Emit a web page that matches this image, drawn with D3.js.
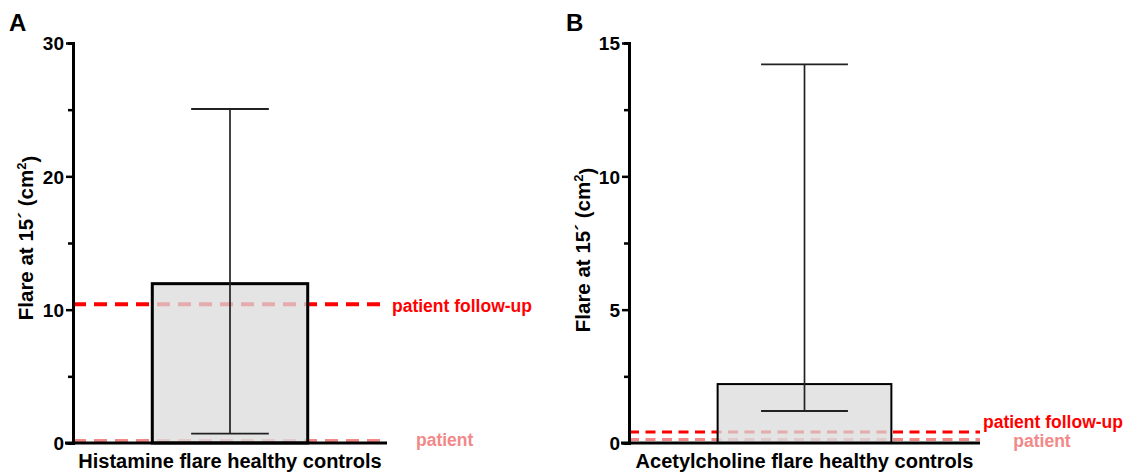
<!DOCTYPE html>
<html>
<head>
<meta charset="utf-8">
<title>Flare at 15'</title>
<script src="https://d3js.org/d3.v7.min.js"></script>
<style>
  body { margin: 0; background: #fff; }
  svg { font-family: "Liberation Sans", Arial, sans-serif; font-weight: bold; }
</style>
</head>
<body>
<svg id="chart" width="1130" height="474"></svg>
<script>
// data
const panels = ['A', 'B'];
const categories = ['Histamine flare healthy controls', 'Acetylcholine flare healthy controls'];
const barMeans = [11.95, 2.21];
const errLow = [0.7, 1.2];
const errHigh = [25.05, 14.2];
const followUp = [10.4, 0.41];
const patient = [0.15, 0.13];
const yMax = [30, 15];
const yTicks = [[0, 10, 20, 30], [0, 5, 10, 15]];
const yMinorStep = [5, 2.5];

const svg = d3.select('#chart');

// layout per panel
const layout = [
  { x0: 73, x1: 387, lw: 4, dash: '13,8', box: 3, lx: 33, ly: 238, letterX: 9,
    fuX: 392, fuY: 312, ptX: 416, ptY: 446, ptAnchor: 'start' },
  { x0: 629, x1: 980, lw: 3, dash: '10,6.5', box: 2, lx: 590, ly: 250, letterX: 566,
    fuX: 983, fuY: 428, ptX: 1042, ptY: 447, ptAnchor: 'middle' }
];
const plotTop = 43, plotBottom = 443;
const red = '#ff0000', pink = '#f28888';

panels.forEach((p, i) => {
  const L = layout[i];
  const g = svg.append('g');

  const y = d3.scaleLinear().domain([0, yMax[i]]).range([plotBottom, plotTop]);
  const x = d3.scaleBand().domain([categories[i]]).range([L.x0, L.x1])
    .paddingInner(0.505).paddingOuter(0.2525);

  // patient reference lines (under the bar)
  g.append('line')
    .attr('x1', L.x0).attr('x2', L.x1)
    .attr('y1', y(patient[i])).attr('y2', y(patient[i]))
    .style('stroke', pink).style('stroke-width', L.lw)
    .style('stroke-dasharray', L.dash);
  g.append('line')
    .attr('x1', L.x0).attr('x2', L.x1)
    .attr('y1', y(followUp[i])).attr('y2', y(followUp[i]))
    .style('stroke', red).style('stroke-width', L.lw)
    .style('stroke-dasharray', L.dash);

  // bar
  g.append('rect')
    .attr('x', x(categories[i]))
    .attr('y', y(barMeans[i]))
    .attr('width', x.bandwidth())
    .attr('height', y(0) - y(barMeans[i]))
    .style('fill', '#dcdcdc')
    .style('fill-opacity', 0.78)
    .style('stroke', '#000')
    .style('stroke-width', L.box);

  // error bar
  const cx = x(categories[i]) + x.bandwidth() / 2;
  const cw = x.bandwidth() / 4;
  g.append('line')
    .attr('x1', cx).attr('x2', cx)
    .attr('y1', y(errLow[i])).attr('y2', y(errHigh[i]))
    .style('stroke', '#222').style('stroke-width', 1.7);
  [errLow[i], errHigh[i]].forEach(v => {
    g.append('line')
      .attr('x1', cx - cw).attr('x2', cx + cw)
      .attr('y1', y(v)).attr('y2', y(v))
      .style('stroke', '#222').style('stroke-width', 1.9);
  });

  // axes
  const yAxis = g.append('g')
    .attr('transform', `translate(${L.x0},0)`)
    .call(d3.axisLeft(y).tickValues(yTicks[i]).tickSize(7).tickSizeOuter(0).tickPadding(2));
  yAxis.append('g').call(d3.axisLeft(y)
    .tickValues(d3.range(0, yMax[i] + 0.01, yMinorStep[i]).filter(v => !yTicks[i].includes(v)))
    .tickSize(5).tickFormat(''));
  yAxis.selectAll('path.domain').style('stroke-width', 3);
  yAxis.selectAll('.tick line').style('stroke-width', 2.5);
  yAxis.selectAll('text').style('font-size', '19px').style('font-weight', 'bold')
    .style('font-family', '"Liberation Sans", Arial, sans-serif').attr('dy', '0.36em');

  g.append('line')
    .attr('x1', L.x0 - 8).attr('x2', L.x1)
    .attr('y1', plotBottom).attr('y2', plotBottom)
    .style('stroke', '#000').style('stroke-width', 3);

  // x category label
  g.append('text')
    .attr('x', cx).attr('y', 468)
    .attr('text-anchor', 'middle')
    .style('font-size', '20px')
    .text(categories[i]);

  // y label
  const yl = g.append('text')
    .attr('transform', `translate(${L.lx},${L.ly}) rotate(-90)`)
    .attr('text-anchor', 'middle')
    .style('font-size', '20.5px');
  yl.append('tspan').text('Flare at 15\u00b4 (cm');
  yl.append('tspan').attr('dy', '-0.55em').style('font-size', '13px').text('2');
  yl.append('tspan').attr('dy', '0.55em').text(')');

  // panel letter
  g.append('text')
    .attr('x', L.letterX).attr('y', 31)
    .style('font-size', '24px')
    .text(p);

  // line labels
  g.append('text').attr('x', L.fuX).attr('y', L.fuY)
    .style('font-size', '17.5px').style('fill', red).text('patient follow-up');
  g.append('text').attr('x', L.ptX).attr('y', L.ptY)
    .attr('text-anchor', L.ptAnchor)
    .style('font-size', '17.5px').style('fill', pink).text('patient');
});
</script>
</body>
</html>
